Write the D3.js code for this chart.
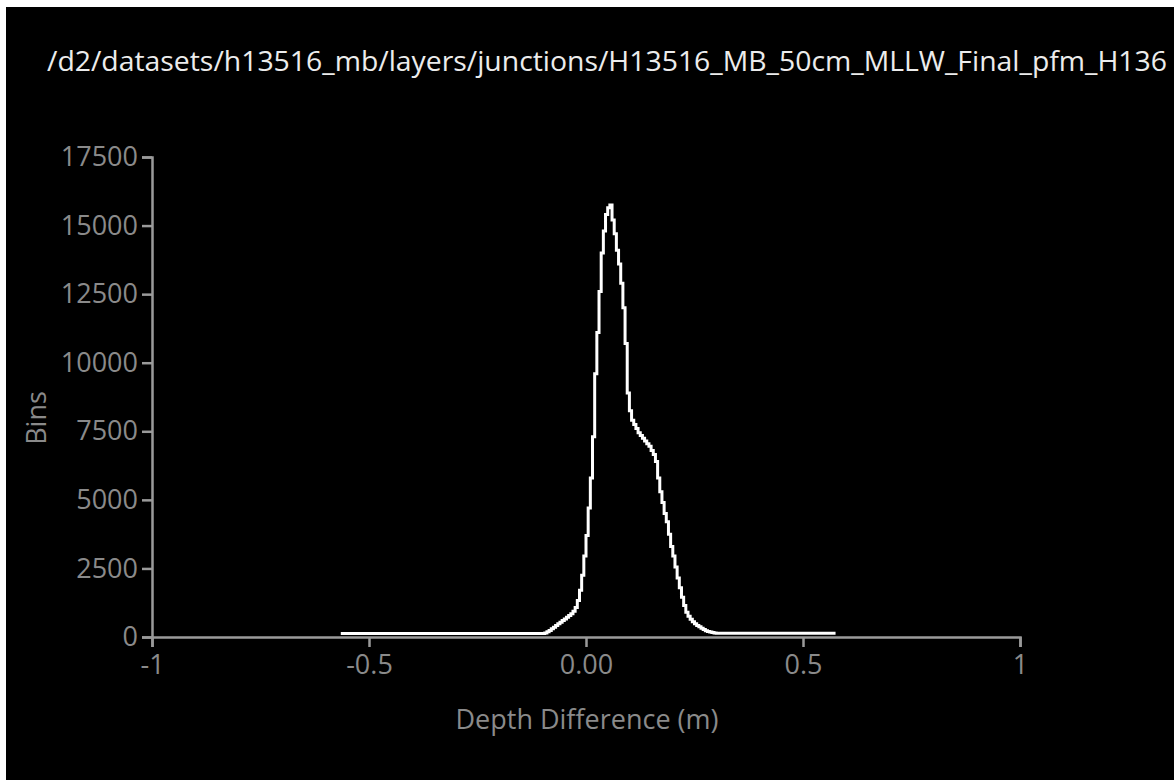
<!DOCTYPE html>
<html>
<head>
<meta charset="utf-8">
<script src="https://cdn.jsdelivr.net/npm/d3@7"></script>
<style>
  html, body { margin: 0; padding: 0; background: #fff; overflow: hidden; }
  svg { display: block; }
  text { font-family: "Open Sans", "Noto Sans", sans-serif; }
</style>
</head>
<body>
<svg></svg>
<script>
let width = 1174;
let height = 780;

let title = '/d2/datasets/h13516_mb/layers/junctions/H13516_MB_50cm_MLLW_Final_pfm_H136';
let xLabel = 'Depth Difference (m)';
let yLabel = 'Bins';

let xTicks = [-1, -0.5, 0, 0.5, 1];
let xTickLabels = ['-1', '-0.5', '0.00', '0.5', '1'];
let yTicks = [0, 2500, 5000, 7500, 10000, 12500, 15000, 17500];

// histogram bin left edges (m) and counts
let depth = [
  -0.565, -0.1, -0.095, -0.09, -0.085, -0.08, -0.075, -0.07, -0.065, -0.06, -0.055,
  -0.05, -0.045, -0.04, -0.035, -0.03, -0.025, -0.02, -0.015, -0.01, -0.005,
  0, 0.005, 0.01, 0.015, 0.02, 0.025, 0.03, 0.035, 0.04, 0.045,
  0.05, 0.055, 0.06, 0.065, 0.07, 0.075, 0.08, 0.085, 0.09, 0.095,
  0.1, 0.105, 0.11, 0.115, 0.12, 0.125, 0.13, 0.135, 0.14, 0.145,
  0.15, 0.155, 0.16, 0.165, 0.17, 0.175, 0.18, 0.185, 0.19, 0.195,
  0.2, 0.205, 0.21, 0.215, 0.22, 0.225, 0.23, 0.235, 0.24, 0.245,
  0.25, 0.255, 0.26, 0.265, 0.27, 0.275, 0.28, 0.285, 0.29, 0.295,
  0.3, 0.575
];
let bins = [
  130, 130, 150, 190, 240, 300, 360, 420, 480, 540, 600,
  660, 720, 780, 850, 940, 1080, 1330, 1700, 2250, 2950,
  3700, 4700, 5800, 7300, 9600, 11100, 12600, 14000, 14800, 15400,
  15650, 15750, 15200, 14700, 14100, 13600, 12900, 12000, 10700, 8900,
  8250, 7900, 7750, 7600, 7450, 7350, 7250, 7150, 7050, 6950,
  6800, 6650, 6400, 5800, 5300, 4900, 4500, 4200, 3750, 3300,
  2950, 2550, 2150, 1800, 1450, 1150, 900, 760, 650, 560,
  480, 420, 370, 320, 270, 230, 200, 180, 160, 150,
  140, 140
];

let svg = d3.select('svg').attr('width', width).attr('height', height);

svg.append('rect')
  .attr('x', 6).attr('y', 7)
  .attr('width', width - 6).attr('height', height - 7)
  .attr('fill', '#000');

let x = d3.scaleLinear().domain([-1, 1]).range([152, 1020]);
let y = d3.scaleLinear().domain([0, 17500]).range([637, 157]);

svg.append('text')
  .attr('x', 47).attr('y', 71)
  .attr('fill', '#ececec')
  .attr('font-size', 28)
  .attr('textLength', 1120)
  .attr('lengthAdjust', 'spacingAndGlyphs')
  .text(title);

let xAxis = svg.append('g')
  .attr('transform', `translate(0,${y(0)})`)
  .call(d3.axisBottom(x).tickValues(xTicks).tickSize(10).tickPadding(8)
    .tickFormat((d, i) => xTickLabels[i]));

let yAxis = svg.append('g')
  .attr('transform', `translate(${x(-1)},0)`)
  .call(d3.axisLeft(y).tickValues(yTicks).tickSize(10).tickPadding(4)
    .tickFormat(d3.format('d')));

[xAxis, yAxis].forEach((g) => {
  g.select('.domain').attr('stroke', '#9a9a9a').attr('stroke-width', 2.5);
  g.selectAll('.tick line').attr('stroke', '#9a9a9a').attr('stroke-width', 2.5);
  g.selectAll('.tick text')
    .attr('fill', '#8a8a8a')
    .attr('font-size', 27)
    .attr('font-family', '"Open Sans", sans-serif');
});

svg.append('text')
  .attr('x', 587).attr('y', 729)
  .attr('text-anchor', 'middle')
  .attr('fill', '#8a8a8a')
  .attr('font-size', 27)
  .text(xLabel);

svg.append('text')
  .attr('transform', 'translate(46,418) rotate(-90)')
  .attr('text-anchor', 'middle')
  .attr('fill', '#8a8a8a')
  .attr('font-size', 27)
  .text(yLabel);

let line = d3.line()
  .x((d, i) => x(depth[i]))
  .y((d) => y(d))
  .curve(d3.curveStepAfter);

svg.append('path')
  .datum(bins)
  .attr('fill', 'none')
  .attr('stroke', '#fff')
  .attr('stroke-width', 3)
  .attr('d', line);
</script>
</body>
</html>
